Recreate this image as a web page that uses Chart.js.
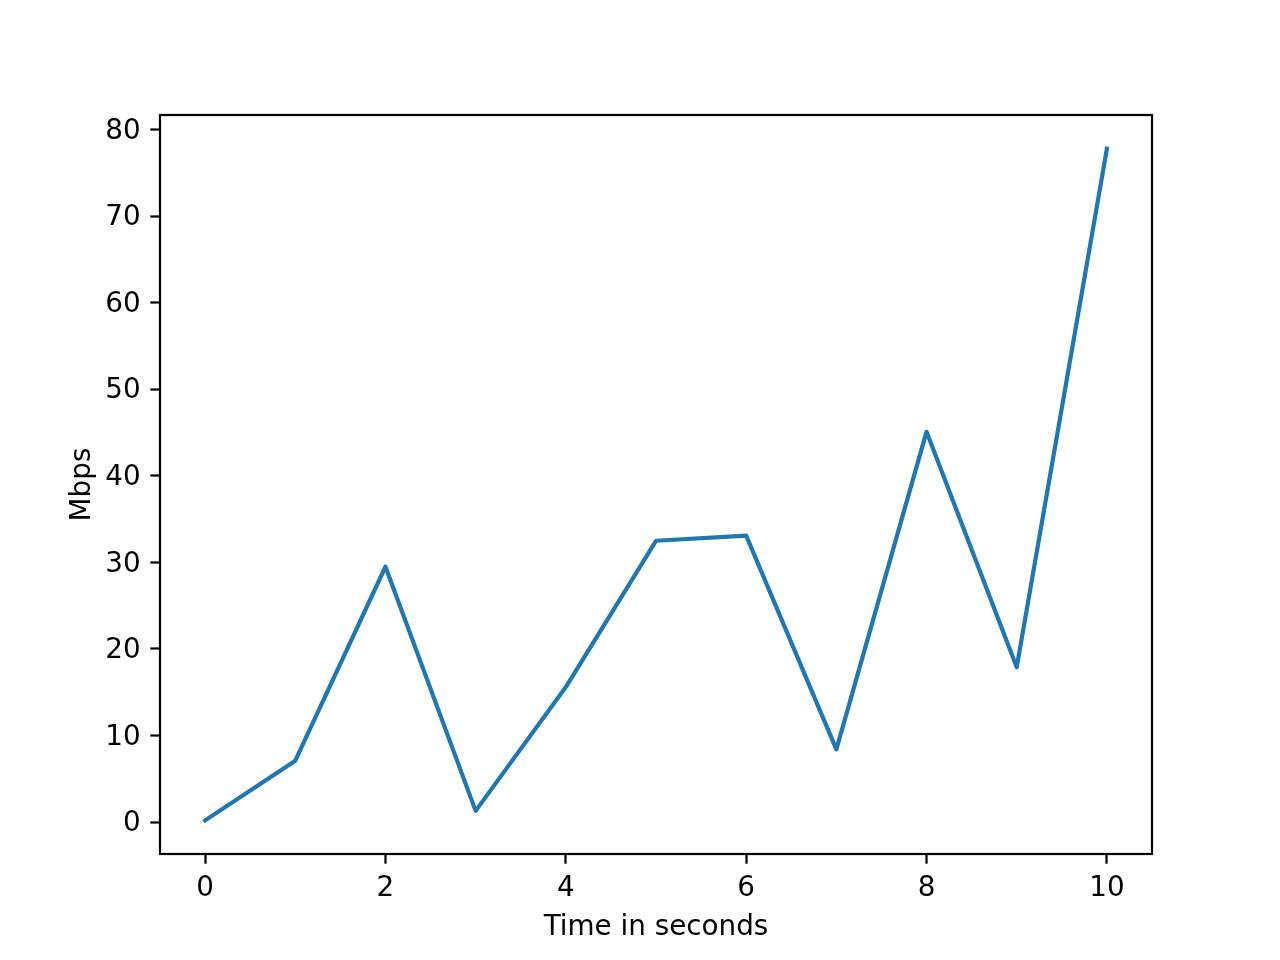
<!DOCTYPE html>
<html>
<head>
<meta charset="utf-8">
<script src="https://cdn.jsdelivr.net/npm/chart.js@4/dist/chart.umd.min.js"></script>
<style>
  html, body { margin: 0; padding: 0; background: #fff; }
  canvas { display: block; }
</style>
</head>
<body>
<canvas id="myChart" width="1280" height="960"></canvas>
<script>
const seconds = [0, 1, 2, 3, 4, 5, 6, 7, 8, 9, 10];
const mbps = [0.2, 7.1, 29.5, 1.3, 15.6, 32.5, 33.1, 8.4, 45.1, 17.9, 77.8];
const xTicks = [0, 2, 4, 6, 8, 10];
const yTicks = [0, 10, 20, 30, 40, 50, 60, 70, 80];

const font = { family: 'DejaVu Sans', size: 27.8 };

// box around the plot area, like matplotlib spines
const frame = {
  id: 'frame',
  afterDatasetsDraw(chart) {
    const { ctx, chartArea: a } = chart;
    ctx.save();
    ctx.strokeStyle = '#000';
    ctx.lineWidth = 2.2;
    ctx.strokeRect(a.left, a.top, a.right - a.left, a.bottom - a.top);
    ctx.restore();
  },
};

new Chart(document.getElementById('myChart'), {
  type: 'line',
  data: {
    datasets: [
      {
        data: seconds.map((s, i) => ({ x: s, y: mbps[i] })),
        borderColor: '#1f77b4',
        borderWidth: 4.2,
        borderJoinStyle: 'round',
        borderCapStyle: 'square',
        pointRadius: 0,
        tension: 0,
      },
    ],
  },
  options: {
    responsive: false,
    animation: false,
    layout: { padding: { top: 115, right: 128, bottom: 0, left: 0 } },
    plugins: { legend: { display: false }, tooltip: { enabled: false } },
    scales: {
      x: {
        type: 'linear',
        min: -0.5,
        max: 10.5,
        afterBuildTicks: (s) => { s.ticks = xTicks.map((v) => ({ value: v })); },
        afterFit: (s) => { s.height = 106; },
        border: { display: false },
        grid: {
          drawOnChartArea: false,
          tickLength: 9.7,
          tickWidth: 2.2,
          tickColor: '#000',
        },
        ticks: { color: '#000', font, padding: 8, maxRotation: 0 },
        title: {
          display: true,
          text: 'Time in seconds',
          color: '#000',
          font,
          padding: { top: 0, bottom: 16 },
        },
      },
      y: {
        min: -3.68,
        max: 81.68,
        afterBuildTicks: (s) => { s.ticks = yTicks.map((v) => ({ value: v })); },
        afterFit: (s) => { s.width = 160; },
        border: { display: false },
        grid: {
          drawOnChartArea: false,
          tickLength: 9.7,
          tickWidth: 2.2,
          tickColor: '#000',
        },
        ticks: { color: '#000', font, padding: 9.7, labelOffset: 2 },
        title: {
          display: true,
          text: 'Mbps',
          color: '#000',
          font,
          padding: { top: 66, bottom: 0 },
        },
      },
    },
  },
  plugins: [frame],
});
</script>
</body>
</html>
